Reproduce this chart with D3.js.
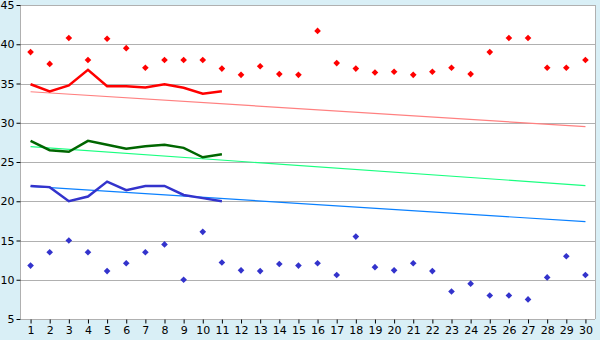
<!DOCTYPE html>
<html lang="en">
<head>
<meta charset="utf-8"/>
<script src="https://d3js.org/d3.v7.min.js"></script>
<style>
  body { margin: 0; background: #d9eff6; }
  svg { display: block; }
  text { font-family: "DejaVu Sans", Verdana, sans-serif; font-size: 11px; fill: #000; }
</style>
</head>
<body>
<svg id="chart" width="600" height="340"></svg>
<script>
// categories along x
const days = d3.range(1, 31);
const yTicks = [5, 10, 15, 20, 25, 30, 35, 40, 45];

// scatter series (30 points each)
const redPoints = [39.0, 37.5, 40.8, 38.0, 40.7, 39.5, 37.0, 38.0, 38.0, 38.0,
                   36.9, 36.1, 37.2, 36.2, 36.1, 41.7, 37.6, 36.9, 36.4, 36.5,
                   36.1, 36.5, 37.0, 36.2, 39.0, 40.8, 40.8, 37.0, 37.0, 38.0];
const bluePoints = [11.8, 13.5, 15.0, 13.5, 11.1, 12.1, 13.5, 14.5, 10.0, 16.1,
                    12.2, 11.2, 11.1, 12.0, 11.8, 12.1, 10.6, 15.5, 11.6, 11.2,
                    12.1, 11.1, 8.5, 9.5, 8.0, 8.0, 7.5, 10.3, 13.0, 10.6];

// line series (first 11 days)
const redLine   = [34.9, 34.0, 34.75, 36.75, 34.66, 34.66, 34.5, 34.9, 34.45, 33.7, 34.0];
const greenLine = [27.7, 26.5, 26.3, 27.7, 27.2, 26.7, 27.0, 27.2, 26.8, 25.6, 26.0];
const blueLine  = [21.95, 21.8, 20.0, 20.6, 22.5, 21.4, 21.95, 21.95, 20.8, 20.4, 20.0];

// trend lines: value on day 1 and day 30
const redTrend   = [33.95, 29.5];
const greenTrend = [26.95, 22.0];
const blueTrend  = [21.9, 17.4];

const svg = d3.select("#chart");
const pLeft = 21, pRight = 595, pTop = 5, pBottom = 319;

const x = d3.scalePoint().domain(days).range([pLeft, pRight]).padding(0.5);
const y = d3.scaleLinear().domain([5, 45]).range([pBottom, pTop]);

// plot background
svg.append("rect")
  .attr("x", pLeft).attr("y", pTop)
  .attr("width", pRight - pLeft).attr("height", pBottom - pTop)
  .attr("fill", "white");

// grid
svg.append("g").selectAll("line")
  .data(yTicks.filter(d => d > 5))
  .join("line")
  .attr("x1", pLeft).attr("x2", pRight)
  .attr("y1", d => Math.round(y(d)) + 0.5).attr("y2", d => Math.round(y(d)) + 0.5)
  .attr("stroke", "#b0b0b0");

// right border
svg.append("line")
  .attr("x1", pRight + 0.5).attr("x2", pRight + 0.5)
  .attr("y1", pTop).attr("y2", pBottom)
  .attr("stroke", "#b0b0b0");

// axes
const yAxis = svg.append("g")
  .attr("transform", "translate(" + (pLeft - 0.5) + ",0)")
  .call(d3.axisLeft(y).tickValues(yTicks).tickSize(4).tickPadding(2));
const xAxis = svg.append("g")
  .attr("transform", "translate(0," + (pBottom + 0.5) + ")")
  .call(d3.axisBottom(x).tickSize(4).tickPadding(3));
[xAxis, yAxis].forEach(a => {
  a.select(".domain").attr("stroke", "#b0b0b0");
  a.selectAll(".tick line").attr("stroke", "#000");
  a.selectAll("text").attr("font-size", null).attr("font-family", null);
});
yAxis.select(".domain").attr("d", "M0," + pTop + "V" + pBottom);
xAxis.select(".domain").attr("d", "M" + pLeft + ",0H" + pRight);

// trend lines
const trends = [[redTrend, "#ff8080"], [greenTrend, "#1aff80"], [blueTrend, "#0a80ff"]];
trends.forEach(([t, c]) => {
  svg.append("line")
    .attr("x1", x(days[0])).attr("x2", x(days[days.length - 1]))
    .attr("y1", y(t[0])).attr("y2", y(t[1]))
    .attr("stroke", c).attr("stroke-width", 1.2);
});

// line series
const line = d3.line().x((d, i) => x(days[i])).y(d => y(d));
[[redLine, "#ff0000"], [greenLine, "#006600"], [blueLine, "#3333cc"]].forEach(([s, c]) => {
  svg.append("path")
    .datum(s)
    .attr("d", line)
    .attr("fill", "none")
    .attr("stroke", c)
    .attr("stroke-width", 2.5);
});

// scatter markers (small square diamonds)
const marker = d3.symbol().type(d3.symbolSquare).size(22);
[[redPoints, "#ff0000"], [bluePoints, "#3333cc"]].forEach(([s, c]) => {
  svg.append("g").selectAll("path")
    .data(s)
    .join("path")
    .attr("d", marker)
    .attr("transform", (d, i) => "translate(" + x(days[i]) + "," + y(d) + ") rotate(45)")
    .attr("fill", c);
});
</script>
</body>
</html>
